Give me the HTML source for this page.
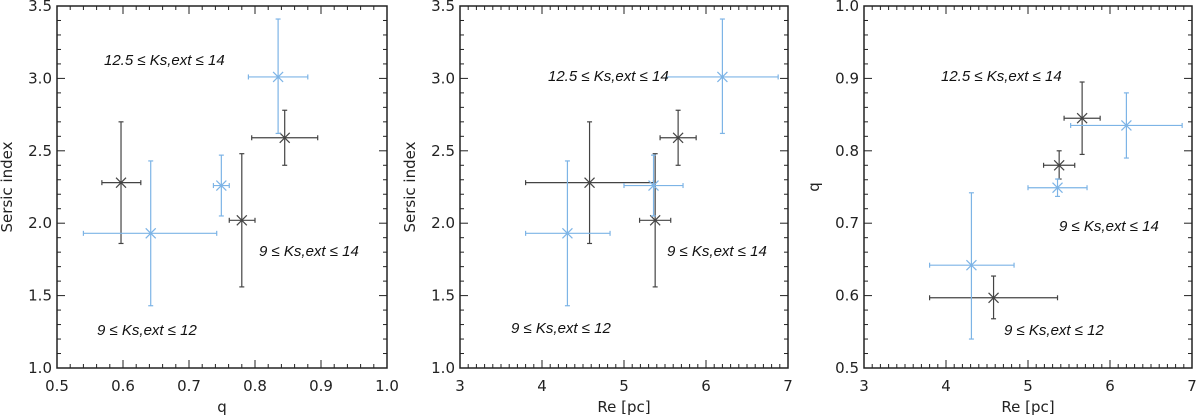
<!DOCTYPE html>
<html><head><meta charset="utf-8">
<style>
body{margin:0;background:#fff;}
svg{display:block;font-family:"DejaVu Sans","Liberation Sans",sans-serif;}
.tick{font-size:15px;fill:#222;}
.lab{font-size:15px;font-style:italic;fill:#111;font-family:"Liberation Sans",sans-serif;}
</style></head>
<body>
<svg id="chart" width="1200" height="420" viewBox="0 0 1200 420" xmlns="http://www.w3.org/2000/svg"></svg>
<script>
// data
const reBlack = [4.58, 5.38, 5.66];
const reBlackLo = [3.80, 5.19, 5.44];
const reBlackHi = [5.36, 5.57, 5.88];
const qBlack = [0.597, 0.780, 0.845];
const qBlackLo = [0.568, 0.761, 0.795];
const qBlackHi = [0.627, 0.800, 0.895];
const nBlack = [2.28, 2.02, 2.59];
const nBlackLo = [1.86, 1.56, 2.40];
const nBlackHi = [2.70, 2.48, 2.78];

const reBlue = [4.31, 5.36, 6.20];
const reBlueLo = [3.80, 5.00, 5.52];
const reBlueHi = [4.83, 5.72, 6.88];
const qBlue = [0.642, 0.749, 0.835];
const qBlueLo = [0.540, 0.737, 0.790];
const qBlueHi = [0.742, 0.761, 0.880];
const nBlue = [1.93, 2.26, 3.01];
const nBlueLo = [1.43, 2.05, 2.62];
const nBlueHi = [2.43, 2.47, 3.41];

const qTicks = ["0.5","0.6","0.7","0.8","0.9","1.0"];
const reTicks = ["3","4","5","6","7"];
const nTicks = ["1.0","1.5","2.0","2.5","3.0","3.5"];
const labelTexts = ["12.5 ≤ Ks,ext ≤ 14","9 ≤ Ks,ext ≤ 14","9 ≤ Ks,ext ≤ 12"];

const svg = document.getElementById('chart');
const NS = "http://www.w3.org/2000/svg";
function mk(tag, attrs, parent){const e=document.createElementNS(NS,tag);for(const k in attrs)e.setAttribute(k,attrs[k]);(parent||svg).appendChild(e);return e;}

const BLACK="#444", BLUE="#7db4e6";
const panels = [
 {name:"panel-q-sersic", x0:57,x1:387, y0:6,y1:368, xmin:0.5,xmax:1.0,xminor:0.02, xt:qTicks, ymin:1.0,ymax:3.5,yminor:0.1, yt:nTicks,
  xlab:"q", ylab:"Sersic index", xs:[qBlack,qBlackLo,qBlackHi,qBlue,qBlueLo,qBlueHi], ys:[nBlack,nBlackLo,nBlackHi,nBlue,nBlueLo,nBlueHi],
  labs:[[104,65],[259,256],[97,335]]},
 {name:"panel-re-sersic", x0:460,x1:788, y0:6,y1:368, xmin:3,xmax:7,xminor:0.1, xt:reTicks, ymin:1.0,ymax:3.5,yminor:0.1, yt:nTicks,
  xlab:"Re [pc]", ylab:"Sersic index", xs:[reBlack,reBlackLo,reBlackHi,reBlue,reBlueLo,reBlueHi], ys:[nBlack,nBlackLo,nBlackHi,nBlue,nBlueLo,nBlueHi],
  labs:[[548,81],[667,256],[511,333]]},
 {name:"panel-re-q", x0:864,x1:1192, y0:6,y1:368, xmin:3,xmax:7,xminor:0.1, xt:reTicks, ymin:0.5,ymax:1.0,yminor:0.02, yt:["0.5","0.6","0.7","0.8","0.9","1.0"],
  xlab:"Re [pc]", ylab:"q", xs:[reBlack,reBlackLo,reBlackHi,reBlue,reBlueLo,reBlueHi], ys:[qBlack,qBlackLo,qBlackHi,qBlue,qBlueLo,qBlueHi],
  labs:[[941,81],[1059,231],[1004,335]]}
];

panels.forEach(p=>{
  const g = mk('g',{});
  
  
  const sx = v => p.x0 + (v-p.xmin)/(p.xmax-p.xmin)*(p.x1-p.x0);
  const sy = v => p.y1 - (v-p.ymin)/(p.ymax-p.ymin)*(p.y1-p.y0);
  const fr = mk('rect',{x:p.x0,y:p.y0,width:p.x1-p.x0,height:p.y1-p.y0,fill:"none",stroke:"#222","stroke-width":1.5},g);
  
  
  const nxm = Math.round((p.xmax-p.xmin)/p.xminor);
  const xmajStep = (p.xmax-p.xmin)/(p.xt.length-1);
  for(let i=0;i<=nxm;i++){
    const v = p.xmin+i*p.xminor; const X=sx(v);
    const major = Math.abs(((v-p.xmin)/xmajStep)-Math.round((v-p.xmin)/xmajStep))<1e-6;
    const L = major?8:4;
    mk('line',{x1:X,x2:X,y1:p.y1,y2:p.y1-L,stroke:"#222","stroke-width":1},g);
    mk('line',{x1:X,x2:X,y1:p.y0,y2:p.y0+L,stroke:"#222","stroke-width":1},g);
  }
  p.xt.forEach((t,i)=>{
    const el = mk('text',{x:sx(p.xmin+i*xmajStep),y:p.y1+23,"text-anchor":"middle",class:"tick"},g);
    el.textContent=t;
    
    
  });
  const nym = Math.round((p.ymax-p.ymin)/p.yminor);
  const ymajStep = (p.ymax-p.ymin)/(p.yt.length-1);
  for(let i=0;i<=nym;i++){
    const v = p.ymin+i*p.yminor; const Y=sy(v);
    const major = Math.abs(((v-p.ymin)/ymajStep)-Math.round((v-p.ymin)/ymajStep))<1e-6;
    const L = major?8:4;
    mk('line',{x1:p.x0,x2:p.x0+L,y1:Y,y2:Y,stroke:"#222","stroke-width":1},g);
    mk('line',{x1:p.x1,x2:p.x1-L,y1:Y,y2:Y,stroke:"#222","stroke-width":1},g);
  }
  p.yt.forEach((t,i)=>{
    const el = mk('text',{x:p.x0-5,y:sy(p.ymin+i*ymajStep)+5,"text-anchor":"end",class:"tick"},g);
    el.textContent=t;
    
    
  });
  const xl = mk('text',{x:(p.x0+p.x1)/2,y:412,"text-anchor":"middle",class:"tick"},g);
  xl.textContent=p.xlab;
  
  
  const yx = p.x0-45;
  const yl = mk('text',{x:yx,y:(p.y0+p.y1)/2,"text-anchor":"middle",class:"tick",transform:`rotate(-90 ${yx} ${(p.y0+p.y1)/2})`},g);
  yl.textContent=p.ylab;
  
  
  [[0,BLACK,"black"],[3,BLUE,"blue"]].forEach(([o,col,nm])=>{
    const X=p.xs[o], XL=p.xs[o+1], XH=p.xs[o+2], Y=p.ys[o], YL=p.ys[o+1], YH=p.ys[o+2];
    X.forEach((_,i)=>{
      const pg = mk('g',{stroke:col,"stroke-width":1.2,fill:"none"},g);
      
      
      const cx=sx(X[i]), cy=sy(Y[i]);
      const xl=sx(XL[i]), xh=sx(XH[i]), yl=sy(YL[i]), yh=sy(YH[i]);
      mk('line',{x1:xl,x2:xh,y1:cy,y2:cy},pg);
      mk('line',{x1:xl,x2:xl,y1:cy-2.5,y2:cy+2.5},pg);
      mk('line',{x1:xh,x2:xh,y1:cy-2.5,y2:cy+2.5},pg);
      mk('line',{x1:cx,x2:cx,y1:yl,y2:yh},pg);
      mk('line',{x1:cx-2.5,x2:cx+2.5,y1:yl,y2:yl},pg);
      mk('line',{x1:cx-2.5,x2:cx+2.5,y1:yh,y2:yh},pg);
      mk('line',{x1:cx-5,x2:cx+5,y1:cy-5,y2:cy+5},pg);
      mk('line',{x1:cx-5,x2:cx+5,y1:cy+5,y2:cy-5},pg);
      mk('circle',{cx:cx,cy:cy,r:1.3,fill:col,stroke:"none"},pg);
    });
  });
  p.labs.forEach((pos,i)=>{
    const t = mk('text',{x:pos[0],y:pos[1],class:"lab"},g);
    t.textContent = labelTexts[i];
    
    
  });
});
</script>
</body></html>
